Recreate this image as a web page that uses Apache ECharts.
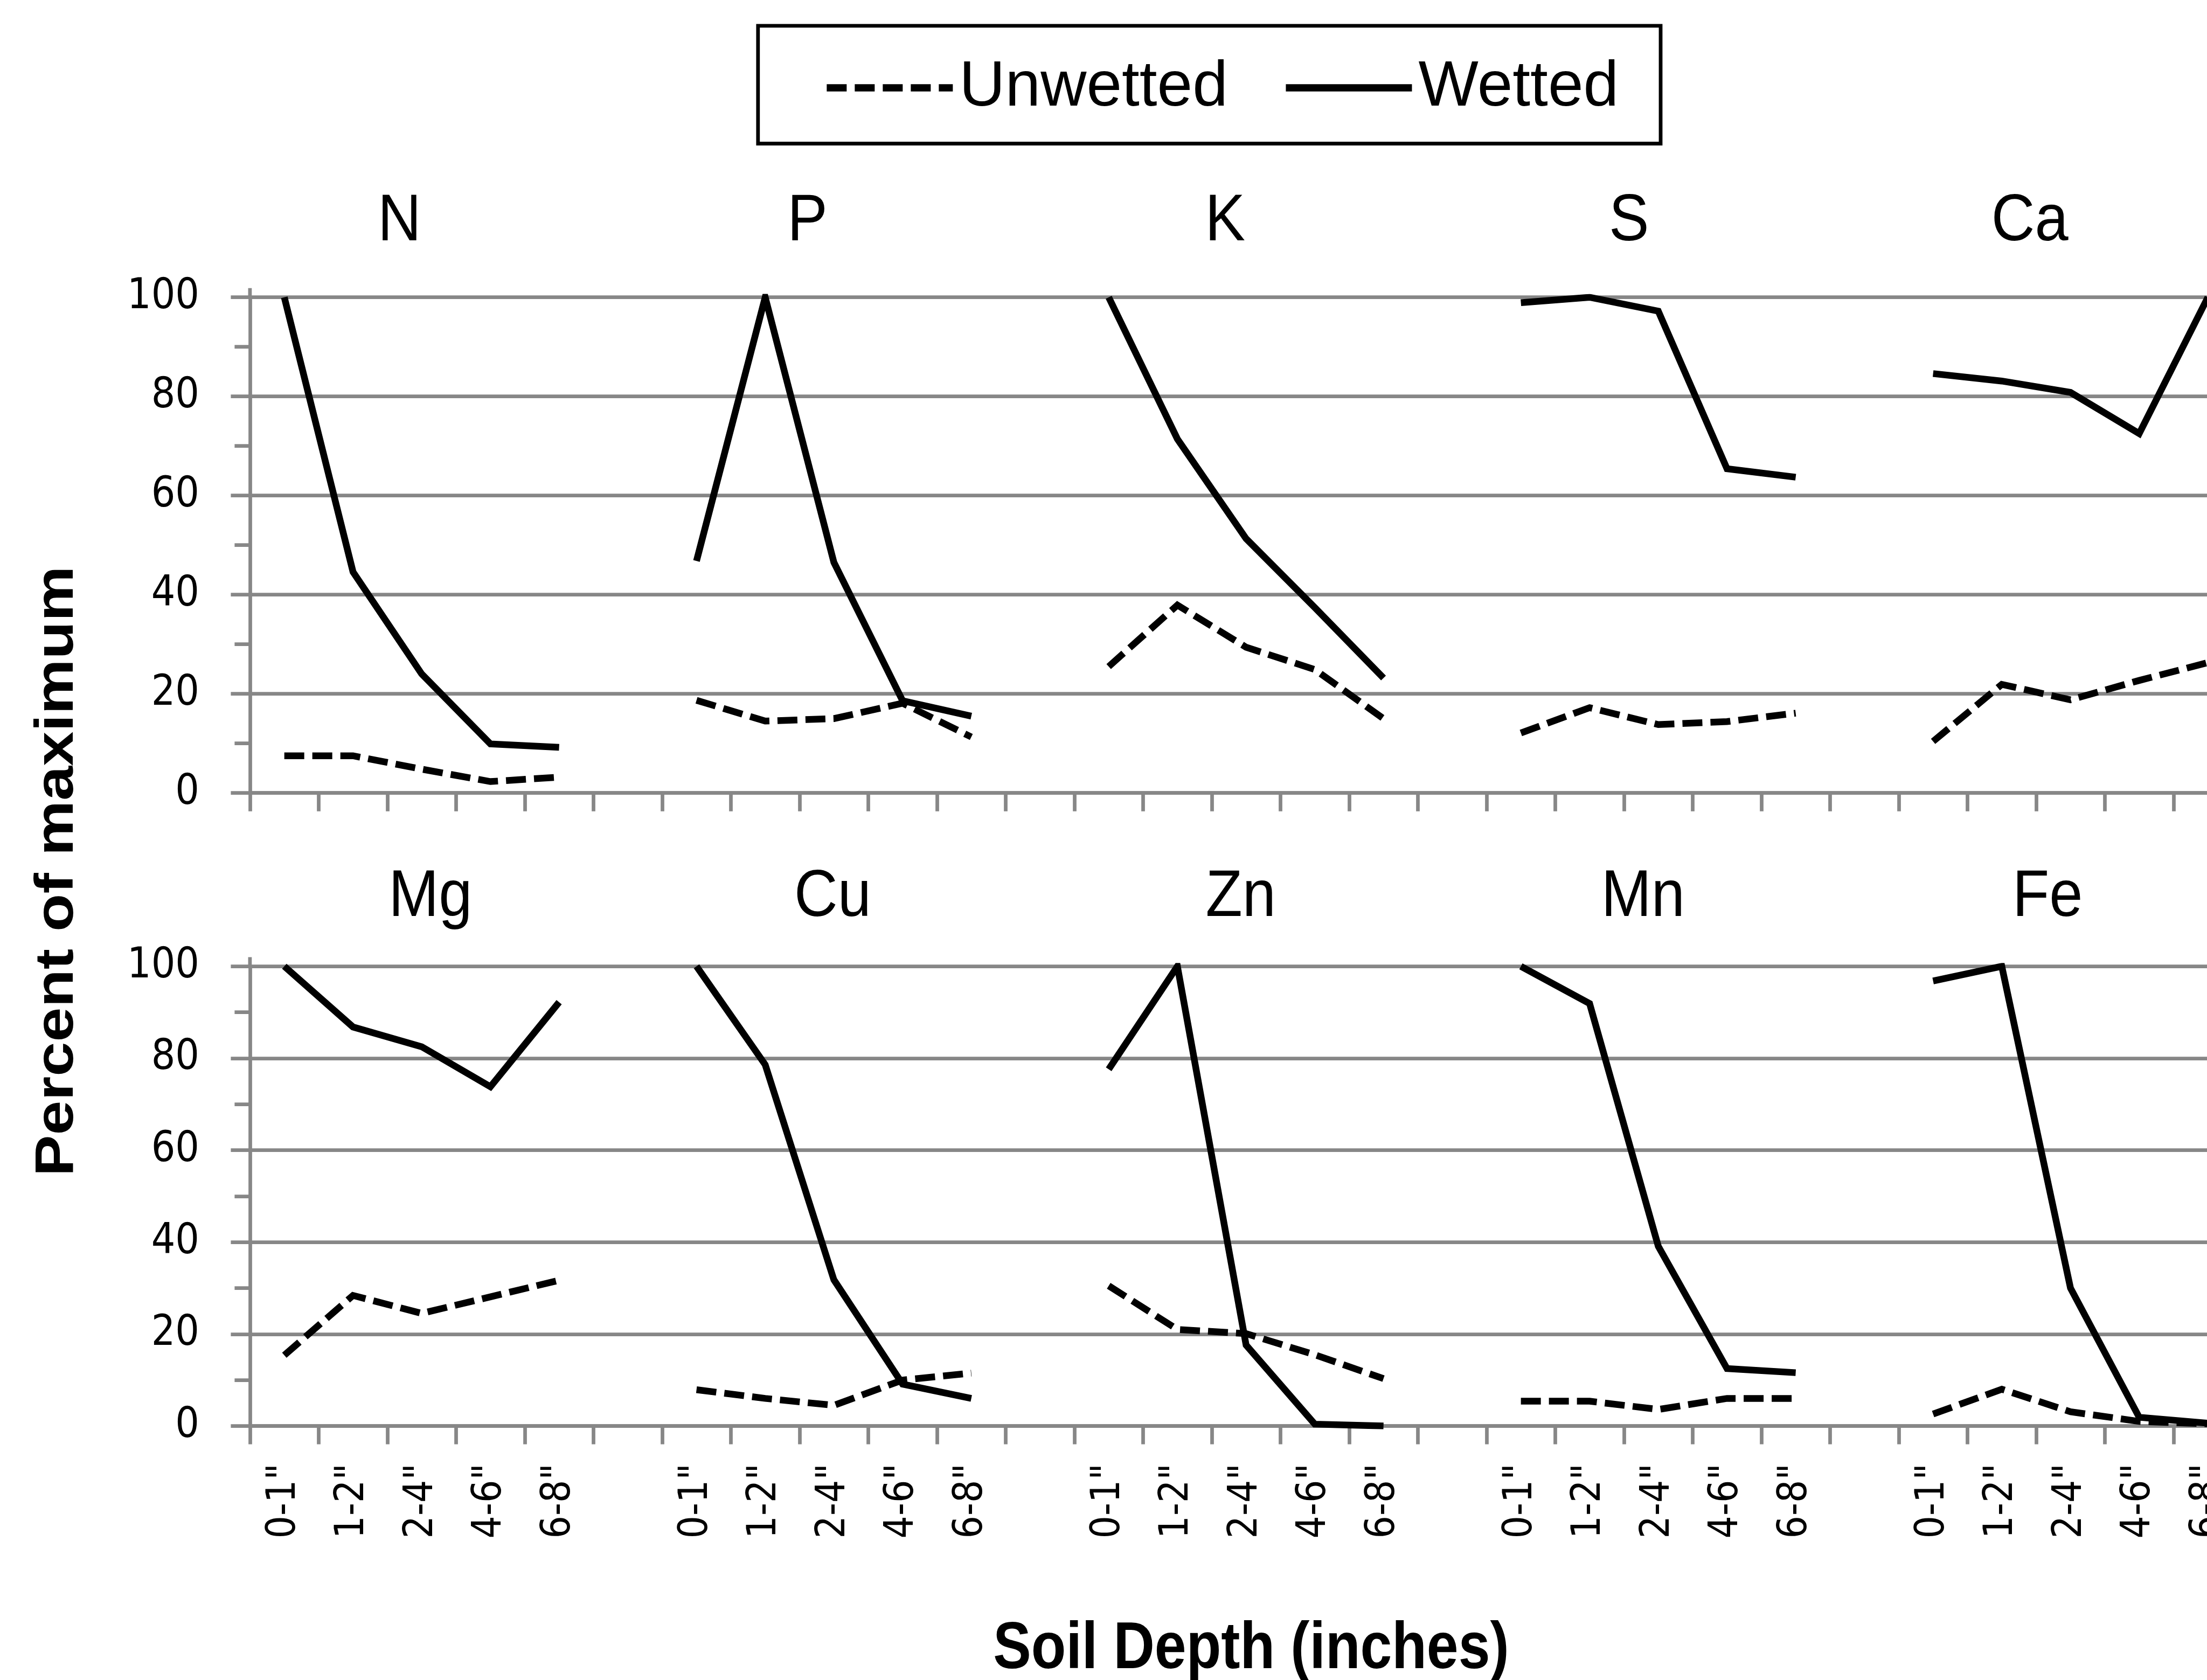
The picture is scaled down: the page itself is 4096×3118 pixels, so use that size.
<!DOCTYPE html>
<html><head><meta charset="utf-8">
<script src="https://cdn.jsdelivr.net/npm/echarts@6/dist/echarts.min.js"></script>
<style>html,body{margin:0;padding:0;background:#fff}#c{width:4096px;height:3118px}</style>
</head><body><div id="c"></div>
<script>
// ---- data ----
const depths = ['0-1"', '1-2"', '2-4"', '4-6"', '6-8"'];
const topElements = ['N', 'P', 'K', 'S', 'Ca'];
const bottomElements = ['Mg', 'Cu', 'Zn', 'Mn', 'Fe'];
const yTickStep = 20;
const legendNames = ['Unwetted', 'Wetted'];
const xTitle = 'Soil Depth (inches)';
const yTitle = 'Percent of maximum';

const N_unwetted  = [7.5, 7.5, 4.8, 2.3, 3.2];
const N_wetted    = [100, 44.6, 24.0, 9.9, 9.2];
const P_unwetted  = [18.7, 14.5, 15.0, 18.1, 11.3];
const P_wetted    = [46.8, 100, 46.5, 18.6, 15.5];
const K_unwetted  = [25.5, 37.9, 29.4, 24.9, 15.0];
const K_wetted    = [100, 71.4, 51.3, 37.4, 23.2];
const S_unwetted  = [12.1, 17.2, 13.8, 14.4, 16.1];
const S_wetted    = [98.9, 100, 97.2, 65.4, 63.7];
const Ca_unwetted = [10.4, 21.9, 18.8, 22.7, 26.3];
const Ca_wetted   = [84.6, 83.1, 80.8, 72.5, 100];
const Mg_unwetted = [15.4, 28.4, 24.5, 28.1, 31.7];
const Mg_wetted   = [100, 86.8, 82.5, 73.8, 92.2];
const Cu_unwetted = [7.9, 6.0, 4.5, 10.0, 11.5];
const Cu_wetted   = [100, 78.6, 31.8, 9.1, 6.0];
const Zn_unwetted = [30.5, 21.0, 20.1, 15.5, 10.3];
const Zn_wetted   = [77.6, 100, 17.6, 0.4, 0];
const Mn_unwetted = [5.4, 5.4, 3.6, 6.0, 6.0];
const Mn_wetted   = [100, 91.9, 39.1, 12.5, 11.6];
const Fe_unwetted = [2.6, 8.0, 3.1, 1.0, 0.5];
const Fe_wetted   = [96.8, 100, 30.0, 1.9, 0.6];

// ---- layout / style ----
const GRAY = '#878787';
const LW = 6.75;
const GRID_LEFT = 463.9;
const SLOT = 127.5;
const TOP1 = 551.7, H1 = 920.0;
const TOP2 = 1793.4, H2 = 853.2;
const LINE_W = 12.5;
const DASH = [37, 15];
const FONT = "'Liberation Sans', Arial, sans-serif";
const TICKFONT = "'DejaVu Sans Condensed', 'DejaVu Sans', sans-serif";
const titleXTop = [741.4, 1498.5, 2273.9, 3023.2, 3767.2];
const titleXBottom = [798.9, 1545.5, 2302.6, 3049.3, 3800.1];
const titleYTop = 412, titleYBottom = 1666;

function joinGroups(groups) {
  const out = [];
  groups.forEach((g, i) => { out.push(...g); if (i < groups.length - 1) out.push(null); });
  return out;
}
const xCats = joinGroups(topElements.map(() => depths)).map(v => v === null ? '' : v);
const nSlots = xCats.length;

const topUnwetted = joinGroups([N_unwetted, P_unwetted, K_unwetted, S_unwetted, Ca_unwetted]);
const topWetted = joinGroups([N_wetted, P_wetted, K_wetted, S_wetted, Ca_wetted]);
const botUnwetted = joinGroups([Mg_unwetted, Cu_unwetted, Zn_unwetted, Mn_unwetted, Fe_unwetted]);
const botWetted = joinGroups([Mg_wetted, Cu_wetted, Zn_wetted, Mn_wetted, Fe_wetted]);

function xAxis(gi, showLabels) {
  return {
    type: 'category', gridIndex: gi, data: xCats, boundaryGap: true,
    axisLine: { show: true, onZero: false, lineStyle: { color: GRAY, width: LW } },
    axisTick: { show: true, interval: 0, length: 34, lineStyle: { color: GRAY, width: LW } },
    splitLine: { show: false },
    axisLabel: { show: showLabels, interval: 0, rotate: 90, margin: 69.5, color: '#000',
      fontSize: 74, fontFamily: TICKFONT }
  };
}
function yAxis(gi) {
  return {
    type: 'value', gridIndex: gi, min: 0, max: 100, interval: yTickStep,
    axisLine: { show: true, lineStyle: { color: GRAY, width: LW } },
    axisTick: { show: true, length: 35.5, lineStyle: { color: GRAY, width: LW } },
    minorTick: { show: true, splitNumber: 2, length: 28.5, lineStyle: { color: GRAY, width: LW } },
    splitLine: { show: true, lineStyle: { color: GRAY, width: LW } },
    minorSplitLine: { show: false },
    axisLabel: { show: true, margin: 94, color: '#000', fontSize: 78, fontFamily: TICKFONT }
  };
}
function lineSeries(name, data, gi, dashed) {
  return {
    type: 'line', name, data, xAxisIndex: gi, yAxisIndex: gi,
    symbol: 'none', showSymbol: false, connectNulls: false, silent: true,
    lineStyle: { color: '#000', width: LINE_W, type: dashed ? DASH : 'solid', join: 'miter', cap: 'butt' },
    itemStyle: { color: '#000' }, z: dashed ? 3 : 4
  };
}
function legendItem(name, left) {
  return {
    data: [name], left, top: 104, padding: 0, itemWidth: 234, itemHeight: 140,
    selectedMode: false, orient: 'horizontal',
    itemStyle: { color: 'rgba(0,0,0,0)', opacity: 0, borderWidth: 0 },
    lineStyle: { color: '#000', width: 13.5 },
    textStyle: { color: '#000', fontSize: 118, fontFamily: FONT, padding: [0, 0, 20, 7] }
  };
}
function textEl(text, x, y, size, weight, extra) {
  return Object.assign({
    type: 'text', x, y,
    style: { text, x: 0, y: 0, fill: '#000', align: 'center', verticalAlign: 'middle',
      font: `${weight} ${size}px ${FONT}` }
  }, extra || {});
}

const graphics = [
  { type: 'rect', shape: { x: 1406.8, y: 47.8, width: 1675.2, height: 218.7 },
    style: { fill: 'none', stroke: '#000', lineWidth: 6.8 }, z: 1 },
  { type: 'line', shape: { x1: GRID_LEFT, y1: TOP1 - 17, x2: GRID_LEFT, y2: TOP1 }, style: { stroke: GRAY, lineWidth: LW } },
  { type: 'line', shape: { x1: GRID_LEFT, y1: TOP2 - 17, x2: GRID_LEFT, y2: TOP2 }, style: { stroke: GRAY, lineWidth: LW } },
  textEl(yTitle, 107, 1617, 101, 'bold', { rotation: Math.PI / 2, scaleX: 1.14 }),
  textEl(xTitle, 2322, 3062, 121.5, 'bold', { scaleX: 0.87 })
];
topElements.forEach((t, i) => graphics.push(textEl(t, titleXTop[i], titleYTop, 121.5, 'normal', { scaleX: 0.92 })));
bottomElements.forEach((t, i) => graphics.push(textEl(t, titleXBottom[i], titleYBottom, 121.5, 'normal', { scaleX: 0.92 })));

const chart = echarts.init(document.getElementById('c'), null, { renderer: 'canvas' });
chart.setOption({
  animation: false,
  backgroundColor: '#fff',
  textStyle: { fontFamily: FONT },
  grid: [
    { left: GRID_LEFT, top: TOP1, width: SLOT * nSlots, height: H1, containLabel: false, outerBoundsMode: 'none' },
    { left: GRID_LEFT, top: TOP2, width: SLOT * nSlots, height: H2, containLabel: false, outerBoundsMode: 'none' }
  ],
  xAxis: [xAxis(0, false), xAxis(1, true)],
  yAxis: [yAxis(0), yAxis(1)],
  legend: [legendItem(legendNames[0], 1527.6), legendItem(legendNames[1], 2379.7)],
  series: [
    lineSeries(legendNames[0], topUnwetted, 0, true),
    lineSeries(legendNames[1], topWetted, 0, false),
    lineSeries(legendNames[0], botUnwetted, 1, true),
    lineSeries(legendNames[1], botWetted, 1, false)
  ],
  graphic: graphics
});
</script></body></html>
